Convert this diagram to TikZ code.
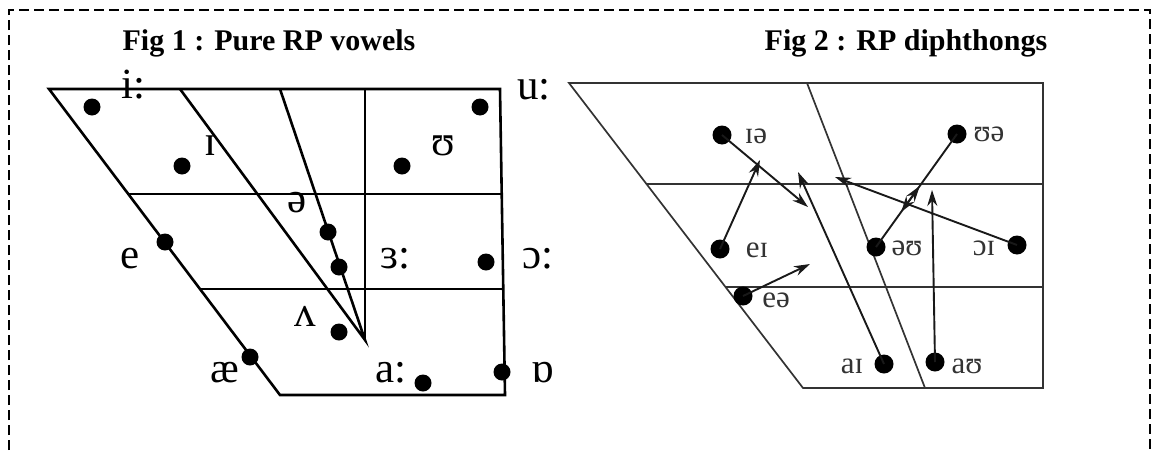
\documentclass[tikz,border=0pt]{standalone}
\usepackage{fontspec}
\setmainfont{Liberation Serif}
\usetikzlibrary{arrows.meta,calc}
\begin{document}
\begin{tikzpicture}[x=1pt,y=-1pt,
  frame/.style={line width=2.2pt,dash pattern=on 10pt off 5pt},
  title/.style={font=\fontsize{30}{30}\selectfont\bfseries,anchor=base,inner sep=0pt},
  chart/.style={line width=2.6pt},
  chartb/.style={line width=1.7pt,draw=black!80},
  dot/.style={circle,fill=black,inner sep=0pt,minimum size=17pt},
  dotb/.style={circle,fill=black,inner sep=0pt,minimum size=19pt},
  vowel/.style={font=\fontsize{43}{43}\selectfont,anchor=base,inner sep=0pt},
  diph/.style={font=\fontsize{31}{31}\selectfont,text=black!80,inner sep=0pt},
  glide/.style={line width=1.9pt,draw=black!90,-{Stealth[length=16pt,width=10pt]}}
  ]
  \useasboundingbox (0,0) rectangle (1153,450);
  \draw[frame] (9,450) -- (9,10) -- (1150,10) -- (1150,450);
  \node[title] (fig1) at (269,50) {Fig 1 : Pure RP vowels};
  \node[title] (fig2) at (906,50) {Fig 2 : RP diphthongs};

  % Fig 1 chart
  \coordinate (tl1) at (49,89);
  \coordinate (tr1) at (500,89);
  \coordinate (br1) at (505,395);
  \coordinate (bl1) at (280,395);
  \coordinate (apex) at (365,340);
  \draw[chart] (tl1) -- (tr1) -- (br1) -- (bl1) -- cycle;
  \draw[chart] ($(tl1)!.343!(bl1)$) -- ($(tr1)!.343!(br1)$);
  \draw[chart] ($(tl1)!.654!(bl1)$) -- ($(tr1)!.654!(br1)$);
  \draw[chart] (180,89) -- (apex) -- (280,89);
  \draw[chart] (apex |- tl1) -- (apex);

  \node[dot] (i) at (92,107) {};
  \node[dot] (ih) at (182,166) {};
  \node[dot] (uh) at (402,166) {};
  \node[dot] (u) at (480,107) {};
  \node[dot] (schwa) at (328,232) {};
  \node[dot] (er) at (339,267) {};
  \node[dot] (e) at (165,242) {};
  \node[dot] (aw) at (486,262) {};
  \node[dot] (uhh) at (339,332) {};
  \node[dot] (ae) at (250,357) {};
  \node[dot] (ah) at (423,383) {};
  \node[dot] (o) at (502,372) {};

  \node[vowel] (li) at (133,98) {i:};
  \node[vowel] (lih) at (210,155) {ɪ};
  \node[vowel] (luh) at (443,155) {ʊ};
  \node[vowel] (lu) at (534,99) {u:};
  \node[vowel] (lschwa) at (297,212) {ə};
  \node[vowel] (le) at (130,268) {e};
  \node[vowel] (ler) at (395,268) {ɜ:};
  \node[vowel] (law) at (538,268) {ɔ:};
  \node[vowel] (luhh) at (305,326) {ʌ};
  \node[vowel] (lae) at (225,382) {æ};
  \node[vowel] (lah) at (391,382) {a:};
  \node[vowel] (lo) at (543,382) {ɒ};

  % Fig 2 chart
  \coordinate (tl2) at (569,83);
  \coordinate (tr2) at (1043,83);
  \coordinate (br2) at (1043,388);
  \coordinate (bl2) at (803,388);
  \draw[chartb] (tl2) -- (tr2) -- (br2) -- (bl2) -- cycle;
  \draw[chartb] ($(tl2)!.331!(bl2)$) -- ($(tr2)!.331!(br2)$);
  \draw[chartb] ($(tl2)!.669!(bl2)$) -- ($(tr2)!.669!(br2)$);
  \draw[chartb] (807,83) -- (925,388);

  \node[dotb] (dia) at (722,135) {};
  \node[dotb] (dua) at (957,134) {};
  \node[dotb] (dei) at (720,249) {};
  \node[dotb] (dou) at (876,247) {};
  \node[dotb] (doi) at (1017,245) {};
  \node[dotb] (dea) at (743,296) {};
  \node[dotb] (dai) at (884,364) {};
  \node[dotb] (dau) at (935,362) {};

  \node[diph] (lia) at (756,136) {ɪə};
  \node[diph] (lua) at (989,134) {ʊə};
  \node[diph] (lei) at (757,250) {eɪ};
  \node[diph] (lou) at (907,248) {əʊ};
  \node[diph] (loi) at (984,248) {ɔɪ};
  \node[diph] (lea) at (776,300) {eə};
  \node[diph] (lai) at (852,366) {aɪ};
  \node[diph] (lau) at (967,366) {aʊ};

  \coordinate (tia) at (808,207);
  \coordinate (tei) at (760,160);
  \coordinate (tai) at (798,172);
  \coordinate (tau) at (932,190);
  \coordinate (toi) at (835,177);
  \coordinate (tea) at (810,264);
  \draw[glide] (dia.center) -- (tia);
  \draw[glide] (dei.center) -- (tei);
  \draw[glide] (dai.center) -- (tai);
  \draw[glide] (dau.center) -- (tau);
  \draw[glide] (doi.center) -- (toi);
  \draw[glide] (dea.center) -- (tea);
  \draw[glide] (dou.center) -- ($(dou.center)!.54!(dua.center)$);
  \draw[glide] (dua.center) -- ($(dua.center)!.69!(dou.center)$);
\end{tikzpicture}
\end{document}
